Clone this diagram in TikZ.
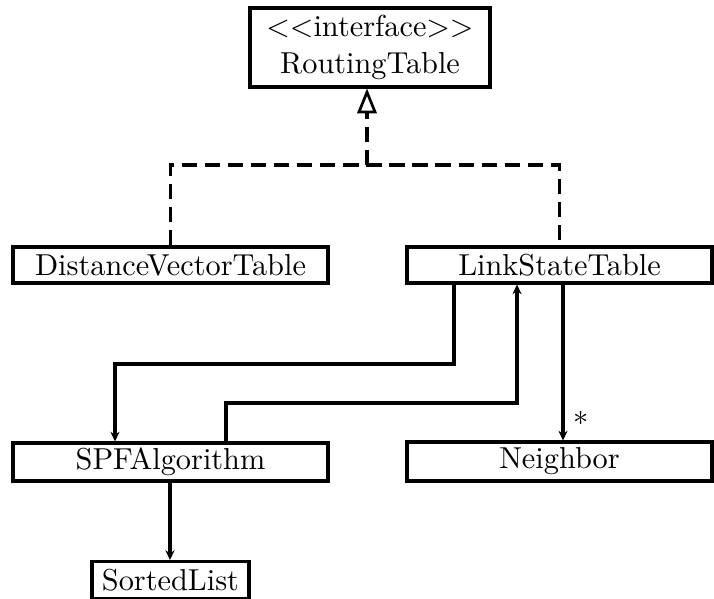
\documentclass[tikz,border=0pt]{standalone}
\usetikzlibrary{arrows.meta}
\newdimen\pxu \pxu=0.33pt
\begin{document}
\begin{tikzpicture}[x=\pxu,y=-\pxu,
  cls/.style={draw=black, line width=1pt, fill=white, inner sep=0pt, align=center},
  dashline/.style={line width=1pt, dash pattern=on 5pt off 2.6pt},
  realize/.style={dashline, -{Triangle[open, length=8.2pt, width=6.4pt, line width=0.9pt]}},
  assoc/.style={line width=1pt, -{Stealth[length=3.2pt, width=3pt]}}]
  \useasboundingbox (0,0) rectangle (714,599);

  % classes
  \node[cls, minimum width=240*\pxu, minimum height=79*\pxu] (rt) at (370,47.5)
    {$<<$interface$>>$\\RoutingTable};
  \node[cls, minimum width=315*\pxu, minimum height=36*\pxu] (dvt) at (170.5,265) {DistanceVectorTable};
  \node[cls, minimum width=305*\pxu, minimum height=36*\pxu] (lst) at (559.5,265) {LinkStateTable};
  \node[cls, minimum width=315*\pxu, minimum height=38*\pxu] (spf) at (170.5,462) {SPFAlgorithm};
  \node[cls, minimum width=305*\pxu, minimum height=39*\pxu] (nb) at (559.5,461.5) {Neighbor};
  \node[cls, minimum width=157*\pxu, minimum height=37*\pxu] (sl) at (170.5,580) {SortedList};

  % bend points
  \coordinate (j0) at (367,165);
  \coordinate (b1) at (454,364);
  \coordinate (b2) at (115,364);
  \coordinate (c1) at (226,403);
  \coordinate (c2) at (517,403);
  \coordinate (d0) at (563,0);
  \coordinate (e0) at (170,0);
  \coordinate (star) at (581,418);

  % realization of the interface
  \draw[dashline] (dvt.north) -- (dvt.north |- j0) -- (lst.north |- j0) -- (lst.north);
  \draw[realize] (j0) -- (rt.south -| j0);

  % associations
  \draw[assoc] (lst.south -| b1) -- (b1) -- (b2) -- (spf.north -| b2);
  \draw[assoc] (spf.north -| c1) -- (c1) -- (c2) -- (lst.south -| c2);
  \draw[assoc] (lst.south -| d0) -- (nb.north -| d0);
  \draw[assoc] (spf.south -| e0) -- (sl.north -| e0);
  \node[inner sep=0pt] (mult) at (star) {$*$};
\end{tikzpicture}
\end{document}
